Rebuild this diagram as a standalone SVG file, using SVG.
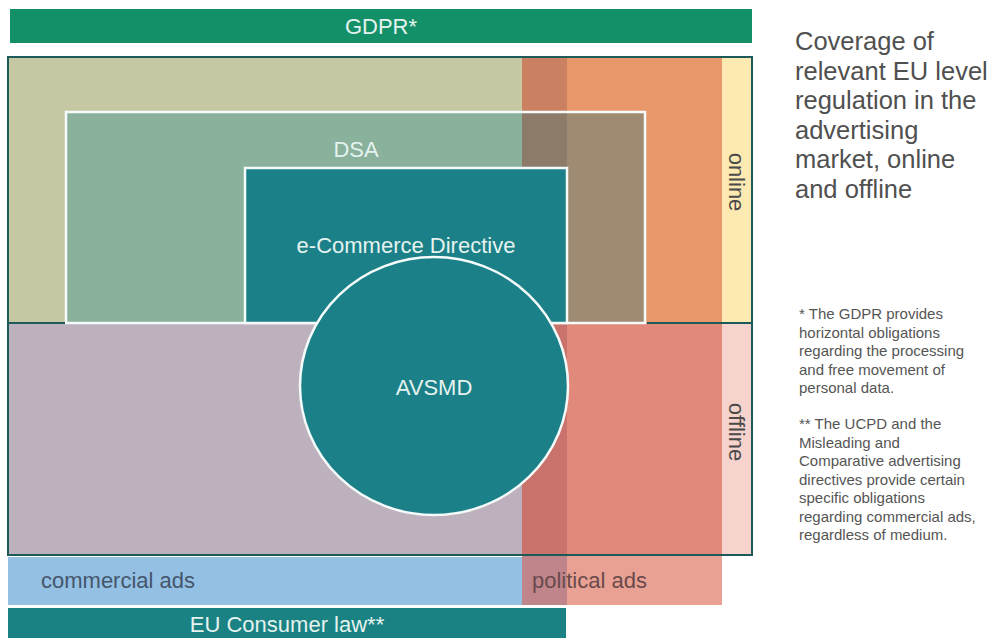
<svg xmlns="http://www.w3.org/2000/svg" width="993" height="638" viewBox="0 0 993 638">
<style>
.lbl{font-family:"Liberation Sans",Arial,sans-serif;font-size:22px}
.w{fill:#e4f3ef}
.title{font-family:"Liberation Sans",Arial,sans-serif;font-size:25.5px;fill:#505050}
.note{font-family:"Liberation Sans",Arial,sans-serif;font-size:15px;fill:#555555}
.wb{fill:none;stroke:#f4fbfa;stroke-width:2.5}
</style>
<rect width="993" height="638" fill="#ffffff"/>
<g id="gdpr">
<rect x="10" y="9" width="742" height="34" fill="#149068"/>
<text class="lbl w" x="381" y="34" text-anchor="middle">GDPR*</text>
</g>
<g id="online">
<rect x="8" y="57" width="514" height="266" fill="#c5c8a3"/>
<rect x="722" y="57" width="30" height="266" fill="#fde9b2"/>
<text class="lbl" fill="#4a4a4a" transform="translate(729,182) rotate(90)" text-anchor="middle">online</text>
</g>
<g id="offline">
<rect x="8" y="323" width="514" height="232" fill="#bdb1be"/>
<rect x="722" y="323" width="30" height="232" fill="#f6d3cc"/>
<text class="lbl" fill="#4a4a4a" transform="translate(729,432) rotate(90)" text-anchor="middle">offline</text>
</g>
<g id="political-ads">
<rect x="567" y="57" width="155" height="266" fill="#e8976b"/>
<rect x="567" y="323" width="155" height="232" fill="#e1897a"/>
<rect x="567" y="555" width="155" height="50" fill="#e8a192"/>
<rect x="522" y="57" width="45" height="266" fill="#c98161"/>
<rect x="522" y="323" width="45" height="232" fill="#c9736c"/>
<rect x="522" y="555" width="45" height="50" fill="#bf858b"/>
<text class="lbl" fill="#6a4a4c" x="532" y="588">political ads</text>
</g>
<g id="commercial-ads">
<rect x="8" y="557" width="514" height="48" fill="#93c0e3"/>
<text class="lbl" fill="#45566c" x="41" y="588">commercial ads</text>
</g>
<g id="dsa">
<rect x="66" y="112" width="456" height="211" fill="#8ab19b"/>
<rect x="522" y="112" width="45" height="211" fill="#8d7b6a"/>
<rect x="567" y="112" width="78" height="211" fill="#9f8b72"/>
<rect class="wb" x="66" y="112" width="579" height="211"/>
<text class="lbl w" x="356" y="157" text-anchor="middle">DSA</text>
</g>
<g id="ecommerce">
<rect x="245" y="168" width="322" height="155" fill="#1b8088" stroke="#f4fbfa" stroke-width="2.5"/>
<text class="lbl w" x="406" y="253" text-anchor="middle">e-Commerce Directive</text>
</g>
<g id="frame">
<rect x="8" y="57" width="744" height="498" fill="none" stroke="#1d5a5a" stroke-width="2"/>
<line x1="8" y1="323" x2="65" y2="323" stroke="#1d5a5a" stroke-width="2"/>
<line x1="647" y1="323" x2="752" y2="323" stroke="#1d5a5a" stroke-width="2"/>
</g>
<g id="avsmd">
<ellipse cx="434" cy="386" rx="134" ry="129" fill="#1b8088" stroke="#f4fbfa" stroke-width="2.5"/>
<text class="lbl w" x="434" y="395" text-anchor="middle">AVSMD</text>
</g>
<g id="eu-consumer-law">
<rect x="8" y="608" width="558" height="30" fill="#1a8282"/>
<text class="lbl w" x="287" y="632" text-anchor="middle">EU Consumer law**</text>
</g>
<g id="connectors"/>
<g id="title">
<text class="title" x="795" y="50">Coverage of</text>
<text class="title" x="795" y="79.6">relevant EU level</text>
<text class="title" x="795" y="109.2">regulation in the</text>
<text class="title" x="795" y="138.8">advertising</text>
<text class="title" x="795" y="168.4">market, online</text>
<text class="title" x="795" y="198">and offline</text>
</g>
<g id="footnotes">
<text class="note" x="799" y="319">* The GDPR provides</text>
<text class="note" x="799" y="337.5">horizontal obligations</text>
<text class="note" x="799" y="356">regarding the processing</text>
<text class="note" x="799" y="374.5">and free movement of</text>
<text class="note" x="799" y="393">personal data.</text>
<text class="note" x="799" y="429">** The UCPD and the</text>
<text class="note" x="799" y="447.5">Misleading and</text>
<text class="note" x="799" y="466">Comparative advertising</text>
<text class="note" x="799" y="484.5">directives provide certain</text>
<text class="note" x="799" y="503">specific obligations</text>
<text class="note" x="799" y="521.5">regarding commercial ads,</text>
<text class="note" x="799" y="540">regardless of medium.</text>
</g>
</svg>
